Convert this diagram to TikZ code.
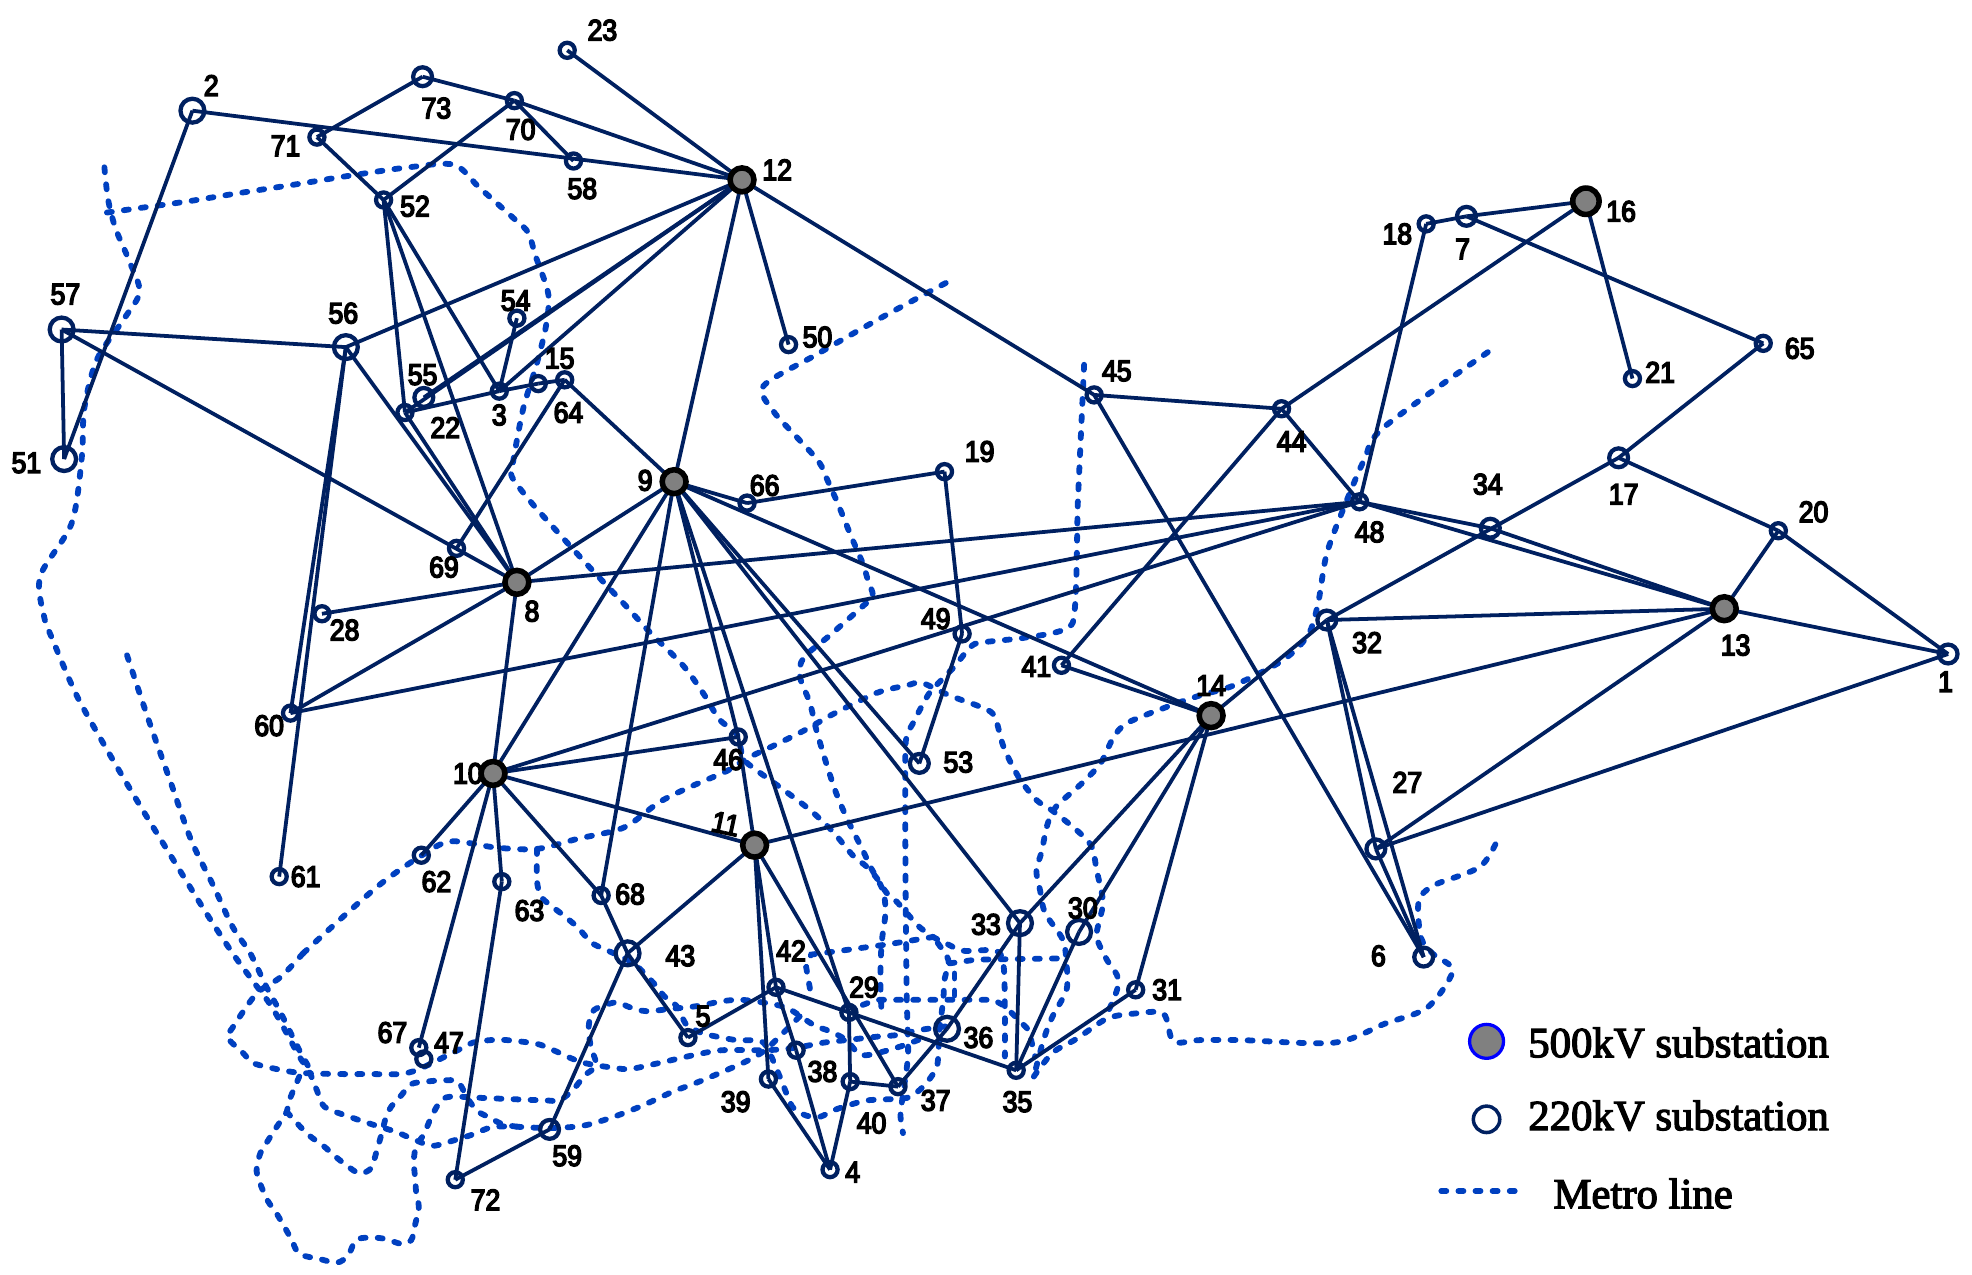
\documentclass[tikz,border=0pt]{standalone}
\usepackage{fontspec}
\usetikzlibrary{backgrounds}
\setmainfont[FakeBold=3]{Liberation Serif}
\newfontfamily\numfont[FakeStretch=0.9,FakeBold=5]{Liberation Sans}
\begin{document}
\begin{tikzpicture}[x=1pt, y=-1pt,
    subring/.style={draw=lineblue, circle, line width=3.4pt, inner sep=0pt},
    subS/.style={subring, minimum size=12pt},
    subM/.style={subring, minimum size=15pt},
    subL/.style={subring, minimum size=19pt},
    subBig/.style={draw=black, fill=subgray, circle, line width=4.4pt, inner sep=0pt, minimum size=19pt},
    numlab/.style={font=\numfont\fontsize{23.5}{23.5}\selectfont, text=black, inner sep=0pt},
    legtext/.style={font=\fontsize{34}{34}\selectfont, text=black, inner sep=0pt, anchor=west},
    edgeline/.style={draw=lineblue, line width=3pt},
    metro/.style={draw=metroblue, line width=4.6pt, line cap=round, dash pattern=on 4pt off 9.6pt}]
  \definecolor{lineblue}{RGB}{0,32,96}
  \definecolor{metroblue}{RGB}{0,64,192}
  \definecolor{subgray}{RGB}{128,128,128}
  \useasboundingbox (0,0) rectangle (1568,1013);
  % substations
  \foreach \name/\x/\y/\lx/\ly in {3/397/311/397/330, 4/660/930/678/932, 5/547/825/559/808,
      15/449/302/445/285, 18/1134/178/1111/186, 19/751/375/779/359, 20/1414/422/1442/407,
      21/1298/301/1320/296, 22/322/328/354/340, 23/451/40/479/24, 28/256/488/274/501,
      29/675/805/687/785, 31/903/787/928/787, 35/808/851/809/876, 37/714/864/744/875,
      38/633/835/654/852, 39/611/858/585/876, 40/676/860/693/893, 41/844/529/824/530,
      42/617/785/629/756, 44/1019/325/1027/351, 45/870/314/888/295, 46/587/586/579/604,
      47/337/842/357/829, 48/1081/399/1089/423, 49/765/504/744/492, 50/627/274/650/268,
      52/305/159/330/164, 54/411/253/410/239, 58/456/128/463/150, 60/231/567/214/577,
      61/222/697/243/697, 62/335/680/347/701, 63/399/701/421/724, 64/428/305/452/328,
      65/1402/273/1431/277, 66/594/400/608/386, 67/333/833/312/821, 68/478/712/501/711,
      69/363/436/353/451, 70/409/80/414/103, 71/252/109/227/116, 72/362/938/386/954}
    \node[subS] (n\name) at (\x,\y) {} node[numlab] (l\name) at (\lx,\ly) {\name};
  \foreach \name/\x/\y/\lx/\ly in {1/1549/520/1547/542, 6/1132/761/1096/760, 7/1166/172/1163/198,
      17/1287/364/1291/393, 27/1094/675/1119/622, 32/1055/493/1087/511, 34/1185/420/1183/385,
      53/731/607/762/606, 55/337/316/336/298, 59/437/898/451/919, 73/336/61/347/86}
    \node[subM] (n\name) at (\x,\y) {} node[numlab] (l\name) at (\lx,\ly) {\name};
  \foreach \name/\x/\y/\lx/\ly in {2/153/88/168/68, 30/858/741/861/722, 33/811/734/784/735,
      36/753/818/778/825, 43/499/758/541/760, 51/51/365/21/368, 56/275/276/273/249, 57/49/262/52/234}
    \node[subL] (n\name) at (\x,\y) {} node[numlab] (l\name) at (\lx,\ly) {\name};
  \foreach \name/\x/\y/\lx/\ly in {8/411/463/423/486, 9/536/383/513/382, 10/392/615/372/615,
      12/590/143/618/135, 13/1371/484/1380/513, 14/963/569/963/545}
    \node[subBig] (n\name) at (\x,\y) {} node[numlab] (l\name) at (\lx,\ly) {\name};
  \node[subBig] (n11) at (600,672) {};
  \node[numlab, rotate=-12] (l11) at (577,655) {11};
  \node[subBig, minimum size=21pt] (n16) at (1261,160) {};
  \node[numlab] (l16) at (1289,168) {16};
  \begin{pgfonlayer}{background}
    % metro lines
    \draw[metro] plot[smooth, tension=.5] coordinates {(83,133) (86,159) (92,182) (103,208) (111,232) (99,253) (77,286) (67,325) (65,364) (57,416) (32,458) (35,490) (42,509) (61,553) (85,596) (111,640) (138,684) (164,726) (185,758) (201,780) (217,802) (238,840) (245,850) (252,867) (258,880) (278,888) (299,895) (315,900) (329,906) (344,911) (360,907) (376,902) (392,896) (413,896) (437,897) (464,895) (488,888) (511,879) (535,868) (556,860) (591,845) (607,836) (620,824) (641,803)};
    \draw[metro] plot[smooth, tension=.5] coordinates {(101,521) (118,572) (135,620) (152,668) (170,705) (185,737) (199,758) (212,785) (223,805) (238,835) (247,851)};
    \draw[metro] plot[smooth, tension=.5] coordinates {(85,169) (114,165) (150,160) (187,154) (239,146) (276,140) (325,133) (361,131) (381,149) (410,175) (420,185) (426,204) (436,234) (434,260) (426,292) (416,325) (408,367) (407,379) (422,399) (437,416) (466,448) (496,480) (517,503) (543,529) (559,551) (572,572) (586,584) (591,603) (601,612) (623,628) (644,644) (662,661) (678,680) (689,689) (697,698) (705,710) (713,717) (721,726) (731,737) (742,745) (754,751) (766,756) (792,756) (798,768) (799,806) (799,840)};
    \draw[metro] plot[smooth, tension=.3] coordinates {(862,290) (857,400) (853,495) (815,507) (775,512) (759,530) (739,551) (726,575) (720,592) (720,700) (721,795) (722,840) (716,885) (718,901)};
    \draw[metro] plot[smooth, tension=.5] coordinates {(752,225) (700,253) (649,282) (607,307) (615,327) (633,347) (651,367) (658,382) (666,400) (677,427) (686,448) (690,461) (694,474) (686,482) (660,505) (639,523) (636,538) (644,559) (649,580) (657,607) (665,631) (674,652) (686,676) (692,689) (702,708) (704,726) (701,750) (700,779) (701,806)};
    \draw[metro] plot[smooth, tension=.5] coordinates {(241,758) (276,726) (305,701) (334,681) (358,669) (395,674) (427,675) (459,667) (496,658) (524,638) (548,626) (578,613) (594,603) (617,592) (641,580) (662,568) (697,551) (721,545) (733,543) (755,553) (782,563) (791,570) (798,594) (810,618) (824,636) (836,644) (856,660) (868,673) (872,692) (877,716) (875,729) (872,745) (880,763) (888,775) (889,784) (884,798) (879,808)};
    \draw[metro] plot[smooth, tension=.5] coordinates {(241,758) (223,777) (204,790) (185,817) (181,825) (193,837) (201,845) (215,849) (238,853) (270,854) (294,854) (318,854) (331,851) (344,845) (368,833) (376,829) (390,827) (403,827) (427,830) (440,835) (453,841) (464,845) (474,847) (488,849) (501,850) (525,845) (538,842) (556,838) (575,835) (610,835) (633,833) (655,829) (673,827) (700,824) (713,823) (731,819) (753,816)};
    \draw[metro] plot[smooth, tension=.5] coordinates {(238,856) (230,875) (228,884) (220,896) (213,907) (207,917) (204,931) (208,944) (213,955) (220,965) (227,977) (232,986) (238,997) (254,1001) (268,1004) (277,998) (283,986) (294,984) (306,985) (319,989) (327,986) (330,974) (333,960) (331,949) (330,936) (329,923) (331,911) (337,902) (343,888) (350,876) (358,872) (384,873) (408,874) (435,875) (445,875) (456,866) (465,855) (474,847) (470,833) (468,819) (470,806) (476,801) (490,797) (501,801) (514,804) (535,802) (554,800) (575,796) (590,795) (612,798) (627,802) (647,815) (660,820) (673,827) (686,839) (713,833) (735,825)};
    \draw[metro] plot[smooth, tension=.5] coordinates {(228,884) (237,894) (246,903) (257,911) (266,919) (276,927) (286,933) (295,929) (299,917) (303,903) (307,888) (311,880) (319,871) (327,862) (339,860) (352,859) (364,860) (371,872) (379,883) (388,888) (400,894) (413,896)};
    \draw[metro] plot[smooth, tension=.5] coordinates {(822,856) (837,837) (856,826) (880,810) (901,806) (925,806) (933,828) (954,827) (987,827) (1061,829) (1101,814) (1135,801) (1155,772) (1140,759) (1130,746) (1128,717) (1140,704) (1177,689) (1192,665)};
    \draw[metro] plot[smooth, tension=.5] coordinates {(1183,280) (1100,340) (1085,365) (1070,400) (1055,440) (1048,480) (1040,505) (1020,525) (981,545) (954,553) (928,562) (896,575) (885,587) (875,607) (859,624) (840,641) (833,655) (828,678) (824,692) (827,708) (831,726) (845,747) (848,766) (848,787) (837,808) (830,826) (822,856)};
    \draw[metro] plot[smooth, tension=.4] coordinates {(427,675) (427,701) (431,714) (447,727) (459,737) (471,750) (488,758) (504,766) (520,782) (528,792) (538,800) (546,815) (560,822) (585,827) (607,829) (620,856) (630,880) (641,887) (652,888) (665,882) (689,875) (721,873) (734,864) (745,848) (747,819) (750,795) (751,779) (754,763) (742,745)};
    \draw[metro] (644,786) -- (641,769) -- (645,759) -- (668,756) -- (705,751) -- (742,745);
    \draw[metro] (755,766) -- (776,763) -- (848,762);
    \draw[metro] (759,774) -- (759,800);
    \draw[metro] (686,799) -- (697,795) -- (790,795) -- (799,800) -- (807,808) -- (818,819) -- (823,840);
    % transmission lines
    \foreach \a/\b in {2/12, 2/51, 71/73, 73/70, 70/12, 70/58, 70/52, 71/52, 23/12,
        52/22, 52/8, 52/3, 57/56, 57/51, 57/8, 56/12, 56/60, 56/61, 56/8,
        55/12, 22/12, 3/12, 22/8, 22/3, 3/64, 64/15, 54/3, 15/9, 15/69,
        12/9, 12/50, 12/45, 45/44, 45/6, 44/16, 44/48, 44/41,
        9/8, 9/10, 9/66, 66/19, 19/49, 49/53, 9/68, 9/46, 46/11, 9/29, 9/53, 9/33, 9/14,
        8/28, 8/60, 8/10, 8/48, 60/48, 10/48, 10/46, 10/11, 10/62, 10/67, 10/63, 63/72,
        10/68, 68/43, 43/5, 43/59, 43/11, 59/72, 5/42, 42/35, 42/38, 38/4, 39/4, 40/4, 29/40,
        11/39, 11/42, 11/37, 37/36, 37/40, 36/33, 33/35, 30/35, 31/35, 14/33, 14/30, 14/31,
        11/13, 41/14, 14/32, 32/13, 32/17, 32/27, 32/6, 48/13, 48/34, 34/13, 48/18, 18/7, 7/16,
        7/65, 65/17, 17/20, 20/13, 20/1, 13/1, 16/21, 13/27, 1/27, 27/6}
      \draw[edgeline] (n\a.center) -- (n\b.center);
  \end{pgfonlayer}
  % legend
  \node[draw=blue, fill=subgray, circle, line width=2.6pt, inner sep=0pt, minimum size=27pt] (legbig) at (1182,828) {};
  \node[subring, line width=2.8pt, minimum size=21pt] (legsmall) at (1182,890) {};
  \coordinate (metroA) at (1146,947);
  \coordinate (metroB) at (1213,947);
  \draw[metro] (metroA) -- (metroB);
  \node[legtext] (text500) at (1215,829) {500kV substation};
  \node[legtext] (text220) at (1215,887) {220kV substation};
  \node[legtext] (textmetro) at (1235,949) {Metro line};
\end{tikzpicture}
\end{document}
